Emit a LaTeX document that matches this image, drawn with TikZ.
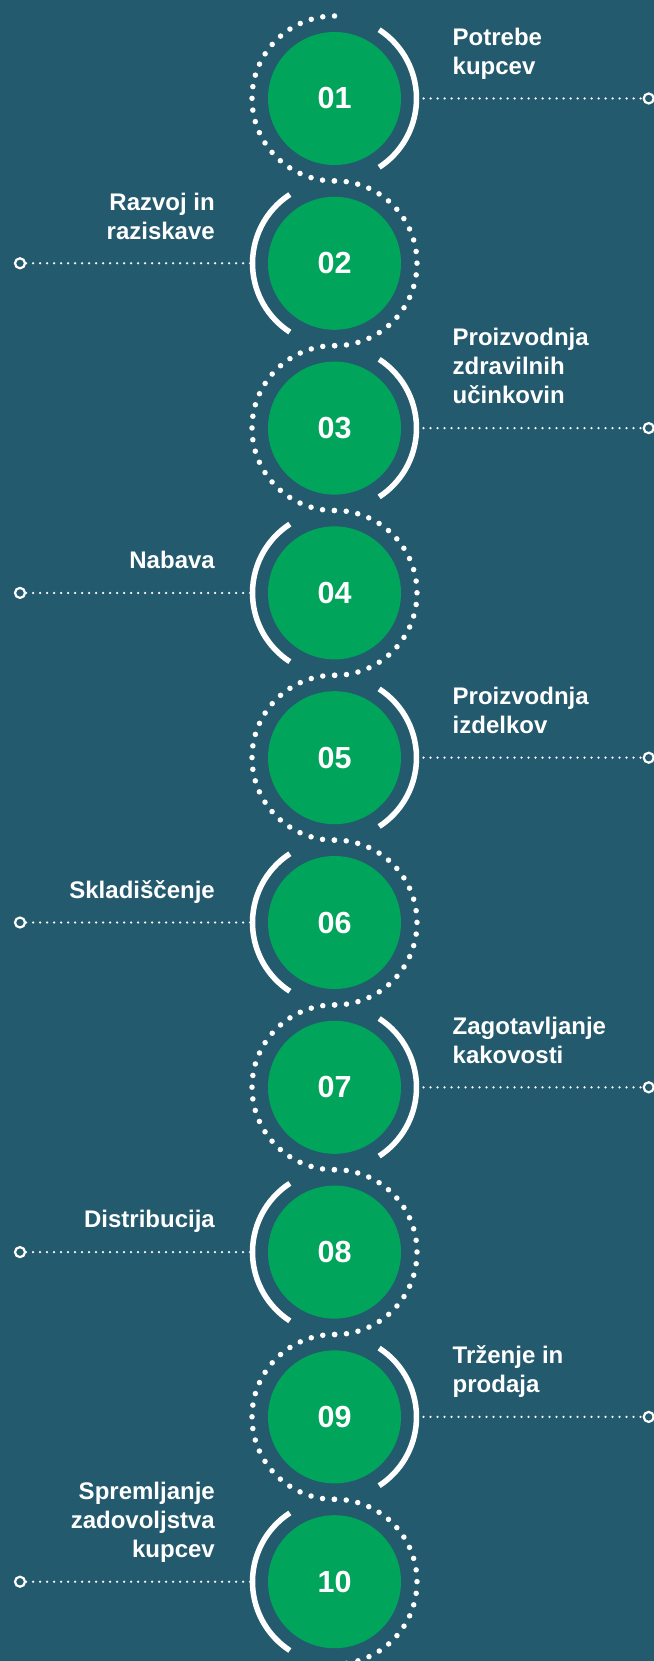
\documentclass[tikz,border=0pt]{standalone}
\usepackage{fontspec}
\setmainfont{Liberation Sans}
\definecolor{bg}{RGB}{36,90,110}
\definecolor{grn}{RGB}{0,164,91}
\begin{document}
\begin{tikzpicture}[x=1pt,y=1pt,
  numcirc/.style={circle, fill=grn, minimum size=133pt, inner sep=0pt, text=white, font=\fontsize{30.5}{36}\selectfont\bfseries},
  dotpath/.style={white, line width=5.5pt, line cap=round, dash pattern=on 0pt off 11.77pt},
  solidarc/.style={white, line width=5.5pt},
  conn/.style={white, line width=2.5pt, line cap=round, dash pattern=on 0pt off 7pt},
  endring/.style={circle, draw=white, fill=bg, line width=2.2pt, inner sep=0pt, minimum size=10pt},
  lbl/.style={text=white, inner sep=0pt, font=\fontsize{24}{29}\selectfont\bfseries}
]
\useasboundingbox (0,0) rectangle (653,-1661);
\fill[bg] (-5,5) rectangle (660,-1666);
\foreach \i/\lab/\txt in {
  1/01/{Potrebe\\kupcev},
  2/02/{Razvoj in\\raziskave},
  3/03/{Proizvodnja\\zdravilnih\\učinkovin},
  4/04/{Nabava},
  5/05/{Proizvodnja\\izdelkov},
  6/06/{Skladiščenje},
  7/07/{Zagotavljanje\\kakovosti},
  8/08/{Distribucija},
  9/09/{Trženje in\\prodaja},
  10/10/{Spremljanje\\zadovoljstva\\kupcev}}{
  \pgfmathsetmacro\cy{-(98.5+(\i-1)*164.8)}
  \node[numcirc] (c\i) at (334.5,\cy) {\lab};
  \ifodd\i\relax
    \draw[solidarc] (c\i.center) ++(57:82) arc[start angle=57,end angle=-57,radius=82];
    \draw[dotpath] (c\i.center) ++(0,82.5) arc[start angle=90,end angle=270,radius=82.5];
    \coordinate (a\i) at ([xshift=82pt]c\i.center);
    \node[endring] (e\i) at (648.7,\cy) {};
    \draw[conn] (a\i) -- (e\i);
    \node[lbl, anchor=south west, align=left] (t\i) at (452.5,\cy+15.3) {\txt\strut};
  \else
    \draw[solidarc] (c\i.center) ++(123:82) arc[start angle=123,end angle=237,radius=82];
    \draw[dotpath] (c\i.center) ++(0,82.5) arc[start angle=90,end angle=-90,radius=82.5];
    \coordinate (a\i) at ([xshift=-82pt]c\i.center);
    \node[endring] (e\i) at (20,\cy) {};
    \draw[conn] (e\i) -- (a\i);
    \node[lbl, anchor=south east, align=right] (t\i) at (215,\cy+15.3) {\txt\strut};
  \fi
}
\end{tikzpicture}
\end{document}
